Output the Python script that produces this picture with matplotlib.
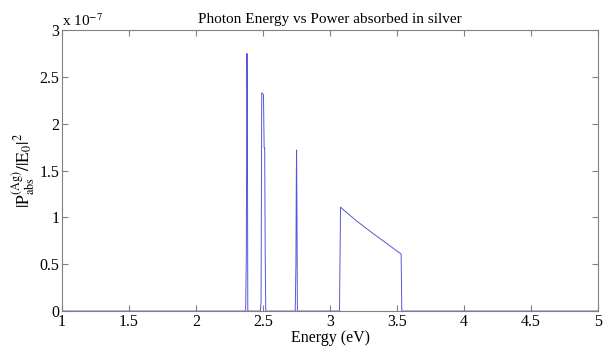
import matplotlib
matplotlib.use('Agg')
import matplotlib.pyplot as plt

plt.rcParams['font.family'] = ['Liberation Serif', 'DejaVu Serif']
plt.rcParams['mathtext.fontset'] = 'stix'

# Photon energy (eV) and absorbed power (units of 1e-7)
energy = [1.0, 2.37, 2.375, 2.378, 2.38, 2.383, 2.386, 2.39,
          2.48, 2.485, 2.49, 2.497, 2.503, 2.508, 2.512, 2.516, 2.52,
          2.74, 2.745, 2.748, 2.75, 2.753, 2.756,
          3.07, 3.078, 3.1, 3.2, 3.3, 3.4, 3.5, 3.53, 3.535, 5.0]
power = [0, 0, 0.6, 2.06, 2.75, 2.06, 0, 0,
         0, 0.1, 2.33, 2.32, 2.31, 1.74, 1.74, 0.6, 0,
         0, 0.5, 1.43, 1.72, 1.0, 0,
         0, 1.11, 1.08, 0.96, 0.85, 0.745, 0.64, 0.61, 0, 0]

fig = plt.figure(figsize=(6.11, 3.46), dpi=100)
ax = fig.add_axes([0.1015, 0.101, 0.8775, 0.812])
ax.plot(energy, power, color='#5656dc', lw=0.7)

ax.set_xlim(1, 5)
ax.set_ylim(0, 3)
ax.set_xticks([1, 1.5, 2, 2.5, 3, 3.5, 4, 4.5, 5])
ax.set_xticklabels(['1', '1.5', '2', '2.5', '3', '3.5', '4', '4.5', '5'])
ax.set_yticks([0, 0.5, 1, 1.5, 2, 2.5, 3])
ax.set_yticklabels(['0', '0.5', '1', '1.5', '2', '2.5', '3'])
ax.tick_params(direction='in', top=True, right=True, labelsize=11.5, length=4,
               color='#808080', pad=2)
for s in ax.spines.values():
    s.set_color('#808080')
    s.set_linewidth(0.8)

ax.set_title('Photon Energy vs Power absorbed in silver', fontsize=11, pad=5)
ax.set_xlabel('Energy (eV)', fontsize=11.5, labelpad=0)
ax.set_ylabel(r'$|\mathrm{P}_{\mathrm{abs}}^{(\mathrm{Ag})}/|\mathrm{E}_0|^2$', fontsize=12.5, labelpad=2)
ax.text(0.0, 1.005, r'x 10$^{-7}$', transform=ax.transAxes, fontsize=11,
        ha='left', va='bottom')

fig.savefig('out.png', dpi=100)
